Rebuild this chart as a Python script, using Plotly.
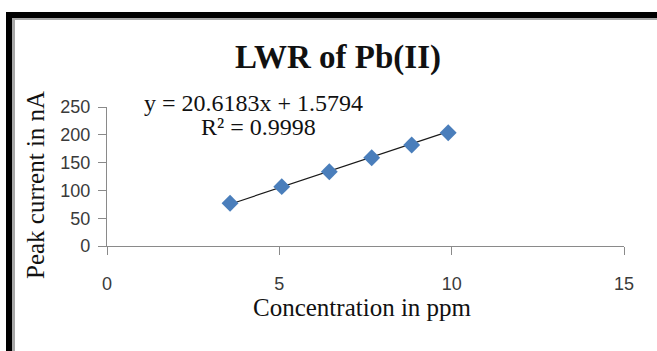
import plotly.graph_objects as go

conc_ppm = [3.57, 5.07, 6.45, 7.68, 8.84, 9.90]
peak_current_nA = [77.0, 106.7, 133.6, 158.8, 181.7, 203.8]
slope = 20.6183
intercept = 1.5794
r_squared = 0.9998
x_ticks = [0, 5, 10, 15]
y_ticks = [0, 50, 100, 150, 200, 250]

W, H = 657, 351
L, R, T, B = 107, 33, 107, 105
pw, ph = W - L - R, H - T - B

def px(xp):
    return (xp - L) / pw

def py(yp):
    return (H - B - yp) / ph

trend_x = [min(conc_ppm), max(conc_ppm)]
trend_y = [slope * v + intercept for v in trend_x]

fig = go.Figure()
fig.add_trace(go.Scatter(
    x=trend_x, y=trend_y, mode="lines",
    line=dict(color="#1a1a1a", width=1.2), showlegend=False, hoverinfo="skip"))
fig.add_trace(go.Scatter(
    x=conc_ppm, y=peak_current_nA, mode="markers",
    marker=dict(symbol="diamond", size=13, color="#4a7ebb"),
    showlegend=False))

axis_common = dict(
    showgrid=False, zeroline=False, showline=True, linecolor="#8a8a8a", linewidth=1.3,
    ticks="outside", ticklen=8, tickcolor="#8a8a8a", tickwidth=1.3,
    tickfont=dict(family="Liberation Sans, Arial, sans-serif", size=18, color="#3a3a3a"),
)
fig.update_xaxes(range=[0, 15], tickvals=x_ticks, ticklabelstandoff=13, **axis_common)
fig.update_yaxes(range=[0, 250], tickvals=y_ticks, ticklabelstandoff=4, **axis_common)

serif = "Liberation Serif, Times New Roman, serif"
ann = [
    dict(text="<b>LWR of Pb(II)</b>", x=px(338), y=py(57), font=dict(family=serif, size=33, color="#111")),
    dict(text="y = 20.6183x + 1.5794", x=px(253), y=py(103), font=dict(family=serif, size=24, color="#111")),
    dict(text="R² = 0.9998", x=px(258), y=py(127), font=dict(family=serif, size=24, color="#111")),
    dict(text="Concentration in ppm", x=px(362), y=py(307), font=dict(family=serif, size=25, color="#111")),
    dict(text="Peak current in nA", x=px(35), y=py(185), textangle=-90, font=dict(family=serif, size=25, color="#111")),
]
for a in ann:
    a.update(xref="paper", yref="paper", showarrow=False, xanchor="center", yanchor="middle")

shapes = [
    dict(type="rect", x0=px(6), x1=px(12), y0=py(H + 5), y1=py(12), fillcolor="black", line=dict(width=0)),
    dict(type="rect", x0=px(6), x1=px(W + 5), y0=py(18), y1=py(12), fillcolor="black", line=dict(width=0)),
    dict(type="rect", x0=px(12), x1=px(15), y0=py(H + 5), y1=py(18), fillcolor="#a8a8a8", line=dict(width=0)),
    dict(type="rect", x0=px(12), x1=px(W + 5), y0=py(20), y1=py(18), fillcolor="#a8a8a8", line=dict(width=0)),
]
for s in shapes:
    s.update(xref="paper", yref="paper", layer="above")

fig.update_layout(
    width=W, height=H, margin=dict(l=L, r=R, t=T, b=B),
    paper_bgcolor="white", plot_bgcolor="white",
    annotations=ann, shapes=shapes,
)
fig.write_html(
    "out.html",
    config={"displayModeBar": False},
    post_script="document.body.style.margin='0';document.body.style.overflow='hidden';",
)
